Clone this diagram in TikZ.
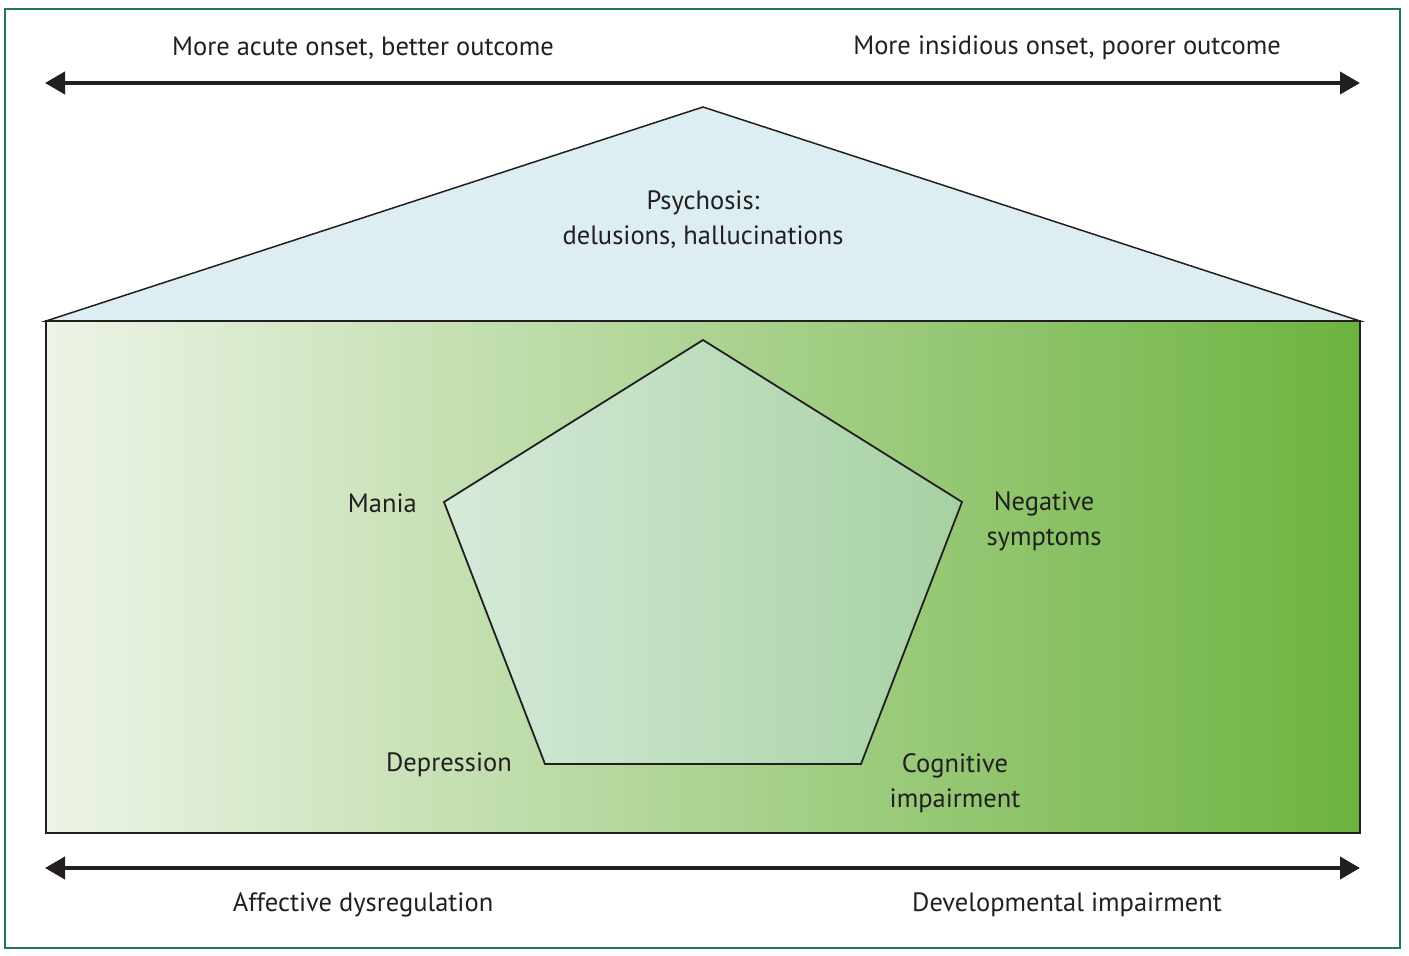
\documentclass[tikz,border=0pt]{standalone}
\usepackage{fontspec}
\setmainfont{PT Sans}
\usepackage{xcolor}
\usepackage{tikz}
\usetikzlibrary{positioning,arrows.meta,calc}
\definecolor{ink}{HTML}{231F20}
\definecolor{framegreen}{HTML}{1F7A4C}
\definecolor{skyfill}{HTML}{DDEEF2}
\definecolor{paleleft}{HTML}{EDF4E7}
\definecolor{midgreen}{HTML}{B4D49B}
\definecolor{deepgreen}{HTML}{6DB33F}
\definecolor{pentleft}{HTML}{D6EADA}
\definecolor{pentright}{HTML}{A6D1A2}
\tikzset{
  lbl/.style={font=\fontsize{26.5}{35}\selectfont, text=ink, inner sep=0pt, align=center},
  axis/.style={{Triangle[length=20pt,width=22pt]}-{Triangle[length=20pt,width=22pt]}, line width=4pt, color=ink},
  edge/.style={draw=ink, line width=1.8pt, line join=miter},
}

\begin{document}
\begin{tikzpicture}[x=1pt,y=-1pt]
\useasboundingbox (0,0) rectangle (1409,956);
\draw[framegreen, line width=1.5pt] (5,9) rectangle (1400,948);

% top axis
\coordinate (tl) at (45,83);
\coordinate (tr) at (1360,83);
\draw[axis] (tl) -- (tr);
\node[lbl] (acute) at (363,48) {More acute onset, better outcome};
\node[lbl] (insid) at (1067,48) {More insidious onset, poorer outcome};

% roof
\coordinate (apex) at (703,107);
\coordinate (bl) at (46,321);
\coordinate (br) at (1360,321);
\draw[edge, fill=skyfill, line width=1.5pt] (bl) -- (apex) -- (br) -- cycle;
\node[lbl] (psy) at (703,220) {Psychosis:\\delusions, hallucinations};

% spectrum box
\draw[edge, left color=paleleft, middle color=midgreen, right color=deepgreen] (46,321) rectangle (1360,833);

% pentagon
\coordinate (p1) at (703,340);
\coordinate (p2) at (962,502);
\coordinate (p3) at (861,764);
\coordinate (p4) at (545,764);
\coordinate (p5) at (444,502);
\draw[edge, left color=pentleft, right color=pentright] (p1) -- (p2) -- (p3) -- (p4) -- (p5) -- cycle;
\node[lbl, anchor=east] (mania) at (417,503) {Mania};
\node[lbl] (neg) at (1044,521) {Negative\\symptoms};
\node[lbl] (dep) at (449,765) {Depression};
\node[lbl] (cog) at (955,783) {Cognitive\\impairment};

% bottom axis
\coordinate (bl2) at (45,868);
\coordinate (br2) at (1360,868);
\draw[axis] (bl2) -- (br2);
\node[lbl] (aff) at (363,905) {Affective dysregulation};
\node[lbl] (dev) at (1067,905) {Developmental impairment};
\end{tikzpicture}
\end{document}
